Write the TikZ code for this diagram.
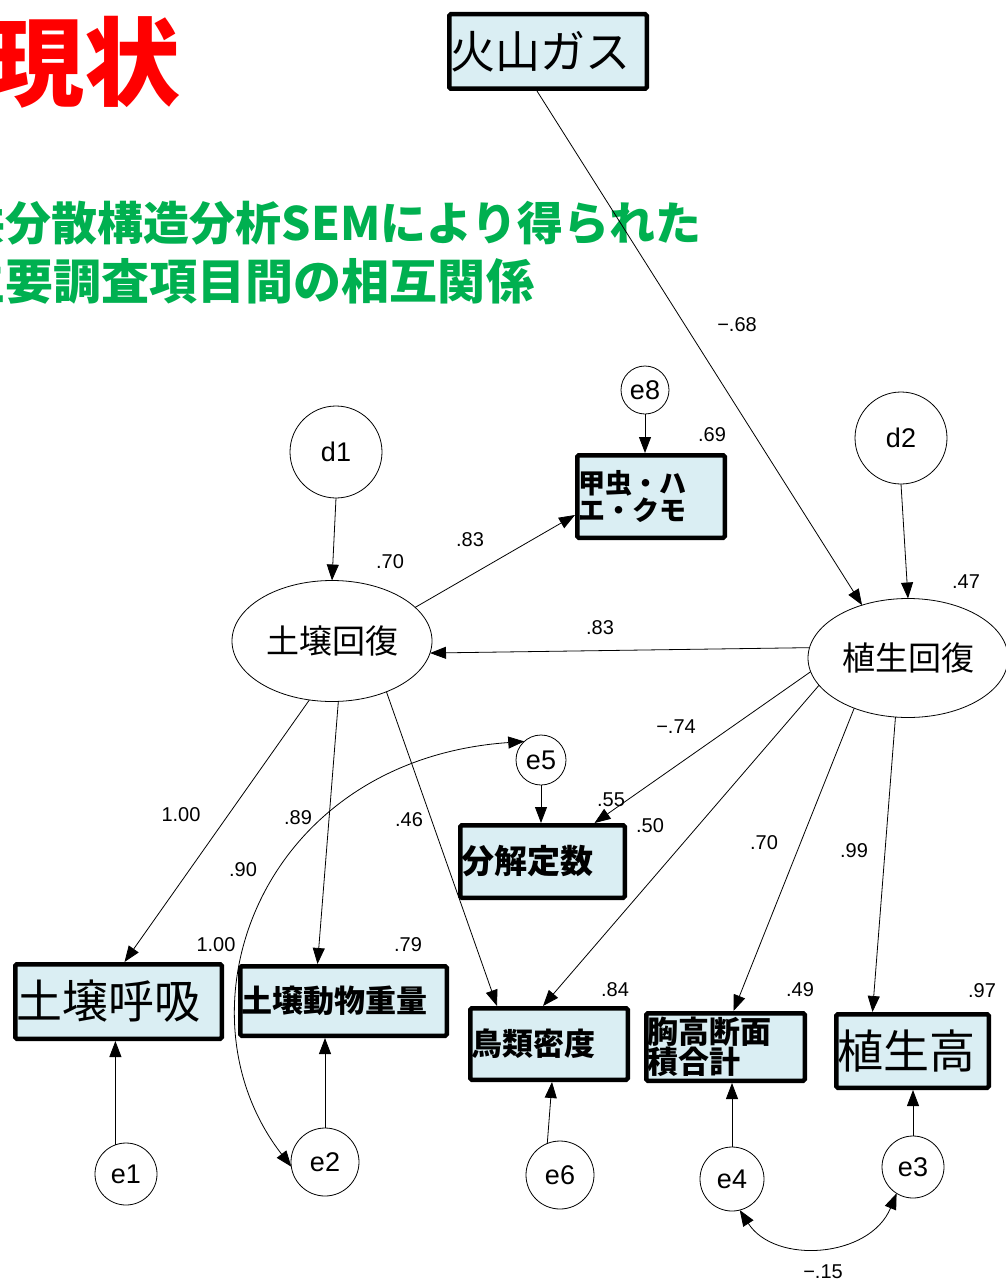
\documentclass[tikz,border=0pt]{standalone}
\usepackage{fontspec}
\setmainfont{Liberation Sans}
\newfontfamily\jp{Noto Sans CJK JP}
\usetikzlibrary{arrows.meta,shapes.geometric,calc}
\definecolor{boxfill}{RGB}{218,238,243}
\definecolor{titlered}{RGB}{255,0,0}
\definecolor{semgreen}{RGB}{0,176,80}
\begin{document}
\begin{tikzpicture}[x=1pt,y=-1pt,
  every node/.style={inner sep=0pt,outer sep=0pt},
  obsbox/.style={draw,line width=4.5pt,fill=boxfill,rounded corners=1.5pt,
    anchor=north west,outer sep=2.25pt,inner xsep=1.5pt,inner ysep=0pt,align=left},
  latentc/.style={draw,circle,line width=0.8pt,font=\fontsize{27}{27}\selectfont},
  latente/.style={draw,ellipse,line width=0.8pt,font=\jp\fontsize{33}{33}\selectfont},
  lbl/.style={font=\fontsize{20}{20}\selectfont},
  arr/.style={-{Triangle[length=16pt,width=12pt]},line width=0.8pt},
  biarr/.style={{Triangle[length=16pt,width=12pt]}-{Triangle[length=16pt,width=12pt]},line width=0.8pt}]
\useasboundingbox (0,0) rectangle (1005,1287);

% titles
\node[text=titlered,font=\jp\bfseries\fontsize{96}{96}\selectfont] (title) at (84,62) {現状};
\node[anchor=west,text=semgreen,font=\jp\bfseries\fontsize{46}{46}\selectfont] (sub1) at (-40,223) {共分散構造分析SEMにより得られた};
\node[anchor=west,text=semgreen,font=\jp\bfseries\fontsize{48}{48}\selectfont] (sub2) at (-42,281) {主要調査項目間の相互関係};

% observed boxes
\node[obsbox,minimum width=197.5pt,minimum height=74.5pt,text width=194.5pt,font=\jp\fontsize{45}{45}\selectfont] (gas) at (447,12) {火山ガス};
\node[obsbox,minimum width=206.5pt,minimum height=74.5pt,text width=203.5pt,font=\jp\fontsize{46}{46}\selectfont] (resp) at (13,962) {土壌呼吸};
\node[obsbox,minimum width=147.5pt,minimum height=82.5pt,text width=144.5pt,font=\jp\bfseries\fontsize{27}{27}\selectfont] (beetle) at (575,453) {甲虫・ハ\\エ・クモ};
\node[obsbox,minimum width=164.5pt,minimum height=72.5pt,text width=161.5pt,font=\jp\bfseries\fontsize{33}{33}\selectfont] (decomp) at (458,823) {分解定数};
\node[obsbox,minimum width=206.5pt,minimum height=69.5pt,text width=203.5pt,font=\jp\bfseries\fontsize{31}{31}\selectfont] (animal) at (238,964) {土壌動物重量};
\node[obsbox,minimum width=157.5pt,minimum height=71.5pt,text width=154.5pt,font=\jp\bfseries\fontsize{31}{31}\selectfont] (bird) at (468,1006) {鳥類密度};
\node[obsbox,minimum width=158.5pt,minimum height=67.5pt,text width=155.5pt,font=\jp\bfseries\fontsize{31}{27}\selectfont] (dbh) at (644,1011) {胸高断面\\積合計};
\node[obsbox,minimum width=152.5pt,minimum height=73.5pt,text width=149.5pt,font=\jp\fontsize{46}{46}\selectfont] (height) at (834,1012) {植生高};

% latent ellipses
\node[latente,minimum width=200pt,minimum height=121pt] (soil) at (332,641) {土壌回復};
\node[latente,minimum width=200pt,minimum height=119pt] (veg) at (908,658) {植生回復};

% circles
\node[latentc,minimum size=48pt] (e8) at (645,390) {e8};
\node[latentc,minimum size=92pt] (d1) at (336,452) {d1};
\node[latentc,minimum size=92pt] (d2) at (901,438) {d2};
\node[latentc,minimum size=50pt] (e5) at (541,760) {e5};
\node[latentc,minimum size=62pt] (e1) at (126,1174) {e1};
\node[latentc,minimum size=68pt] (e2) at (325,1162) {e2};
\node[latentc,minimum size=68pt] (e6) at (560,1175) {e6};
\node[latentc,minimum size=64pt] (e4) at (732,1179) {e4};
\node[latentc,minimum size=62pt] (e3) at (913,1167) {e3};

% connectors
\draw[arr] ([xshift=-11pt]gas.south) -- (veg.131);
\draw[arr] (e8.south) -- (e8.south |- beetle.north);
\draw[arr] (d1.south) -- (soil.north);
\draw[arr] (soil.22) -- ([yshift=-18.5pt]beetle.west);
\draw[arr] (d2.south) -- (veg.north);
\draw[arr] (veg.174) -- (soil.-7);
\draw[arr] (veg.188) -- ([xshift=52pt]decomp.north);
\draw[arr] (veg.197) -- ([xshift=-6pt]bird.north);
\draw[arr] (veg.223) -- ([xshift=8pt]dbh.north);
\draw[arr] (veg.258) -- ([xshift=-40pt]height.north);
\draw[arr] (soil.249) -- ([xshift=6pt]resp.north);
\draw[arr] (soil.276) -- ([xshift=-26pt]animal.north);
\draw[arr] (soil.-43) -- ([xshift=-52pt]bird.north);
\draw[arr] (e5.south) -- (e5.south |- decomp.north);
\draw[arr] (e1.110) -- (e1.110 |- resp.south);
\draw[arr] (e2.north) -- (e2.north |- animal.south);
\draw[arr] (e6.112) -- ([xshift=3pt]bird.south);
\draw[arr] (e4.north) -- (e4.north |- dbh.south);
\draw[arr] (e3.north) -- (e3.north |- height.south);
\draw[biarr] (e4.-76) .. controls (775,1265) and (870,1258) .. (e3.238);
\draw[biarr] (e5.132) .. controls (260,760) and (170,1010) .. (e2.188);

% labels
\node[lbl] (l1) at (737,325) {−.68};
\node[lbl] (l2) at (712,435) {.69};
\node[lbl] (l3) at (390,562) {.70};
\node[lbl] (l4) at (470,540) {.83};
\node[lbl] (l5) at (966,582) {.47};
\node[lbl] (l6) at (600,628) {.83};
\node[lbl] (l7) at (676,727) {−.74};
\node[lbl] (l8) at (611,800) {.55};
\node[lbl] (l9) at (650,826) {.50};
\node[lbl] (l10) at (181,815) {1.00};
\node[lbl] (l11) at (298,818) {.89};
\node[lbl] (l12) at (409,820) {.46};
\node[lbl] (l13) at (243,870) {.90};
\node[lbl] (l14) at (764,843) {.70};
\node[lbl] (l15) at (854,851) {.99};
\node[lbl] (l16) at (216,945) {1.00};
\node[lbl] (l17) at (408,945) {.79};
\node[lbl] (l18) at (615,990) {.84};
\node[lbl] (l19) at (800,990) {.49};
\node[lbl] (l20) at (982,991) {.97};
\node[lbl] (l21) at (823,1272) {−.15};
\end{tikzpicture}
\end{document}
